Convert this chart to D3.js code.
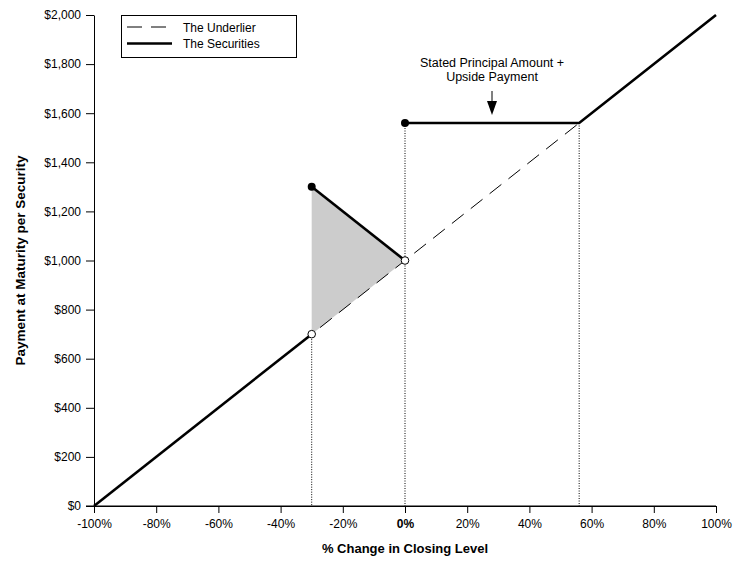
<!DOCTYPE html>
<html>
<head>
<meta charset="utf-8">
<script src="https://cdn.jsdelivr.net/npm/d3@7"></script>
<style>
  body { margin: 0; background: #fff; }
  svg { font-family: "Liberation Sans", Arial, sans-serif; }
  .axis path, .axis line { stroke: #000; }
  .axis text { font-size: 12px; fill: #000; }
</style>
</head>
<body>
<svg width="742" height="561"></svg>
<script>
// tick values
var xTicks = [-100, -80, -60, -40, -20, 0, 20, 40, 60, 80, 100];
var yTicks = [0, 200, 400, 600, 800, 1000, 1200, 1400, 1600, 1800, 2000];

// underlier: payment = 1000 * (1 + change)
var underlier = [[-100, 0], [100, 2000]];

// securities payoff pieces
var securitiesLow = [[-100, 0], [-30, 700]];
var securitiesBuffer = [[-30, 1300], [0, 1000]];
var securitiesHigh = [[0, 1560], [56, 1560], [100, 2000]];

// shaded region
var shaded = [[-30, 700], [-30, 1300], [0, 1000]];

// marker points
var filledDots = [[-30, 1300], [0, 1560]];
var openDots = [[-30, 700], [0, 1000]];

// dotted drop lines
var dropLines = [[-30, 700], [0, 1560], [56, 1560]];

var svg = d3.select("svg");

var x = d3.scaleLinear().domain([-100, 100]).range([94, 716]),
    y = d3.scaleLinear().domain([0, 2000]).range([506, 15]);

var line = d3.line()
    .x(function (d) { return x(d[0]); })
    .y(function (d) { return y(d[1]); });

// shaded triangle
svg.append("path")
    .attr("d", line(shaded) + "Z")
    .attr("fill", "#cccccc")
    .attr("stroke", "none");

// dotted verticals
svg.selectAll(".drop")
    .data(dropLines)
    .enter().append("line")
    .attr("class", "drop")
    .attr("x1", function (d) { return x(d[0]); })
    .attr("x2", function (d) { return x(d[0]); })
    .attr("y1", function (d) { return y(d[1]); })
    .attr("y2", y(0))
    .attr("stroke", "#000")
    .attr("stroke-width", 1)
    .attr("stroke-dasharray", "1,1.5");

// underlier dashed line
svg.append("path")
    .attr("d", line(underlier))
    .attr("fill", "none")
    .attr("stroke", "#000")
    .attr("stroke-width", 1)
    .attr("stroke-dasharray", "15,9");

// axes
svg.append("g")
    .attr("class", "axis axis--y")
    .attr("transform", "translate(" + x(-100) + ",0)")
    .call(d3.axisLeft(y).tickValues(yTicks).tickSizeInner(8).tickSizeOuter(0).tickPadding(5)
        .tickFormat(function (d) { return "$" + d3.format(",")(d); }));

svg.append("g")
    .attr("class", "axis axis--x")
    .attr("transform", "translate(0," + y(0) + ")")
    .call(d3.axisBottom(x).tickValues(xTicks).tickSizeInner(7).tickSizeOuter(0).tickPadding(6)
        .tickFormat(function (d) { return d + "%"; }))
    .selectAll("text")
    .style("font-weight", function (d) { return d === 0 ? "bold" : "normal"; });

// extend x axis line left to meet $0 tick
svg.append("line")
    .attr("x1", x(-100) - 8).attr("x2", x(100))
    .attr("y1", y(0)).attr("y2", y(0))
    .attr("stroke", "#000");

// securities solid lines
[securitiesLow, securitiesBuffer, securitiesHigh].forEach(function (seg) {
    svg.append("path")
        .attr("d", line(seg))
        .attr("fill", "none")
        .attr("stroke", "#000")
        .attr("stroke-width", 2.6);
});

// markers
svg.selectAll(".dot-filled")
    .data(filledDots)
    .enter().append("circle")
    .attr("cx", function (d) { return x(d[0]); })
    .attr("cy", function (d) { return y(d[1]); })
    .attr("r", 4)
    .attr("fill", "#000");

svg.selectAll(".dot-open")
    .data(openDots)
    .enter().append("circle")
    .attr("cx", function (d) { return x(d[0]); })
    .attr("cy", function (d) { return y(d[1]); })
    .attr("r", 3.8)
    .attr("fill", "#fff")
    .attr("stroke", "#000")
    .attr("stroke-width", 1);

// axis titles
svg.append("text")
    .attr("x", x(0))
    .attr("y", 553)
    .attr("text-anchor", "middle")
    .style("font-size", "13px")
    .style("font-weight", "bold")
    .text("% Change in Closing Level");

svg.append("text")
    .attr("transform", "translate(25," + y(1000) + ") rotate(-90)")
    .attr("text-anchor", "middle")
    .style("font-size", "13.5px")
    .style("font-weight", "bold")
    .text("Payment at Maturity per Security");

// annotation
var ann = svg.append("g");
ann.append("text")
    .attr("x", 492).attr("y", 67)
    .attr("text-anchor", "middle")
    .style("font-size", "12.5px")
    .text("Stated Principal Amount +");
ann.append("text")
    .attr("x", 492).attr("y", 81)
    .attr("text-anchor", "middle")
    .style("font-size", "12.5px")
    .text("Upside Payment");
ann.append("line")
    .attr("x1", 492).attr("x2", 492)
    .attr("y1", 91).attr("y2", 104)
    .attr("stroke", "#000").attr("stroke-width", 1);
ann.append("path")
    .attr("d", "M487,101 L497,101 L492,115 Z")
    .attr("fill", "#000");

// legend
var legend = svg.append("g");
legend.append("rect")
    .attr("x", 121.5).attr("y", 15.5)
    .attr("width", 175).attr("height", 42)
    .attr("fill", "#fff")
    .attr("stroke", "#000");
legend.append("line")
    .attr("x1", 127).attr("x2", 172)
    .attr("y1", 27).attr("y2", 27)
    .attr("stroke", "#000").attr("stroke-dasharray", "15,9");
legend.append("line")
    .attr("x1", 127).attr("x2", 172)
    .attr("y1", 43.5).attr("y2", 43.5)
    .attr("stroke", "#000").attr("stroke-width", 2.6);
legend.append("text")
    .attr("x", 183).attr("y", 31.5)
    .style("font-size", "12px")
    .text("The Underlier");
legend.append("text")
    .attr("x", 183).attr("y", 48)
    .style("font-size", "12px")
    .text("The Securities");
</script>
</body>
</html>
